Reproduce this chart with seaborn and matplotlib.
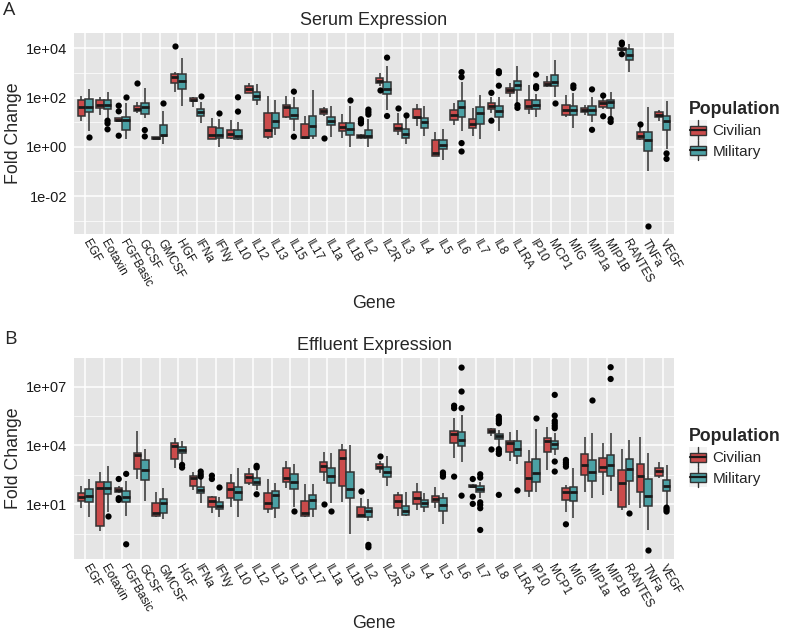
import matplotlib
matplotlib.use("Agg")
import matplotlib.pyplot as plt
import seaborn as sns
import numpy as np
import pandas as pd
from matplotlib.patches import Patch, Rectangle
from matplotlib.lines import Line2D
from matplotlib.legend_handler import HandlerBase
from matplotlib.ticker import FixedLocator, NullFormatter

genes = ["EGF", "Eotaxin", "FGFBasic", "GCSF", "GMCSF", "HGF", "IFNa", "IFNy",
         "IL10", "IL12", "IL13", "IL15", "IL17", "IL1a", "IL1B", "IL2", "IL2R",
         "IL3", "IL4", "IL5", "IL6", "IL7", "IL8", "IL1RA", "IP10", "MCP1", "MIG",
         "MIP1a", "MIP1B", "RANTES", "TNFa", "VEGF"]
populations = ["Civilian", "Military"]
colors = {"Civilian": "#CB4B4B", "Military": "#4BA1A5"}

# box summaries, as log10 exponents: (low whisker, q1, median, q3, high whisker)
serum_civilian = [
    (1.06, 1.24, 1.63, 1.92, 2.08), (1.31, 1.58, 1.71, 1.92, 2.04), (1.03, 1.03, 1.09, 1.17, 1.17),
    (1.36, 1.44, 1.54, 1.67, 1.81), (0.31, 0.31, 0.35, 0.39, 0.39), (2.22, 2.60, 2.83, 2.97, 3.03),
    (1.63, 1.84, 1.92, 1.99, 2.04), (0.31, 0.31, 0.48, 0.79, 1.17), (0.31, 0.34, 0.52, 0.68, 1.09),
    (2.18, 2.20, 2.33, 2.45, 2.59), (0.31, 0.38, 0.68, 1.36, 2.07), (1.17, 1.20, 1.61, 1.71, 2.07),
    (0.31, 0.34, 0.38, 0.93, 1.27), (1.27, 1.33, 1.47, 1.54, 1.61), (0.35, 0.65, 0.79, 0.95, 1.33),
    (0.30, 0.35, 0.42, 0.49, 0.52), (2.45, 2.59, 2.69, 2.79, 3.00), (0.49, 0.63, 0.76, 0.93, 1.37),
    (0.86, 1.17, 1.22, 1.54, 1.74), (-0.39, -0.37, -0.27, 0.27, 0.59), (0.88, 1.09, 1.31, 1.50, 1.77),
    (0.45, 0.75, 0.93, 1.13, 1.58), (1.36, 1.54, 1.67, 1.77, 2.01), (2.01, 2.18, 2.29, 2.38, 2.59),
    (1.33, 1.54, 1.66, 1.92, 2.49), (2.42, 2.45, 2.54, 2.63, 2.87), (1.20, 1.29, 1.51, 1.71, 2.12),
    (1.31, 1.40, 1.50, 1.58, 1.70), (1.54, 1.63, 1.76, 1.84, 1.97), (3.89, 3.92, 3.97, 4.03, 4.05),
    (0.29, 0.31, 0.44, 0.59, 0.79), (1.06, 1.22, 1.29, 1.40, 1.50),
]
serum_military = [
    (0.65, 1.43, 1.61, 1.95, 2.35), (1.17, 1.52, 1.71, 1.88, 2.22), (0.31, 0.69, 1.09, 1.22, 1.77),
    (1.17, 1.33, 1.63, 1.78, 2.38), (0.11, 0.42, 0.49, 0.88, 1.47), (1.66, 2.35, 2.67, 2.94, 3.61),
    (0.95, 1.27, 1.43, 1.54, 1.82), (0.01, 0.35, 0.49, 0.76, 1.13), (0.29, 0.31, 0.45, 0.68, 0.99),
    (1.71, 1.92, 2.07, 2.24, 2.56), (0.49, 0.76, 1.06, 1.36, 1.92), (0.65, 1.13, 1.31, 1.56, 2.01),
    (0.31, 0.42, 0.86, 1.27, 2.31), (0.38, 0.88, 1.06, 1.22, 1.67), (0.01, 0.48, 0.71, 0.95, 1.67),
    (0.01, 0.35, 0.45, 0.68, 1.13), (1.51, 2.15, 2.35, 2.63, 3.28), (0.11, 0.35, 0.52, 0.71, 1.17),
    (0.44, 0.76, 0.99, 1.16, 1.66), (-0.53, -0.10, 0.08, 0.27, 0.72), (0.65, 1.22, 1.61, 1.85, 2.63),
    (0.31, 0.93, 1.39, 1.61, 2.11), (0.65, 1.22, 1.44, 1.67, 2.01), (1.77, 2.29, 2.52, 2.69, 3.27),
    (1.20, 1.52, 1.71, 1.88, 2.15), (2.01, 2.45, 2.65, 2.93, 3.54), (0.75, 1.29, 1.51, 1.67, 2.18),
    (0.99, 1.31, 1.50, 1.67, 2.04), (1.22, 1.58, 1.80, 1.88, 2.24), (3.03, 3.54, 3.71, 3.99, 4.16),
    (-0.98, -0.16, 0.29, 0.59, 1.63), (-0.10, 0.69, 1.03, 1.27, 1.85),
]
serum_civilian_out = {
    "FGFBasic": [1.67, 1.44, 0.45], "GCSF": [2.59], "HGF": [4.10], "IL1a": [0.34],
    "IL2": [1.12, 1.03, 0.95], "IL2R": [2.29], "IL3": [1.58], "IL8": [2.19, 1.06],
    "MIP1B": [2.08, 1.24], "RANTES": [4.23, 4.16, 3.76], "TNFa": [0.94],
}
serum_military_out = {
    "EGF": [0.38], "Eotaxin": [1.06, 0.95, 0.71], "FGFBasic": [2.04], "GCSF": [0.68, 0.42],
    "GMCSF": [1.76], "IFNa": [2.07], "IFNy": [1.36], "IL10": [2.01, 1.43], "IL15": [2.24, 0.41],
    "IL1B": [1.92], "IL2": [1.51, 1.41, 1.31], "IL2R": [3.62, 1.25], "IL3": [1.29],
    "IL6": [3.03, 2.83, 0.15, -0.19], "IL8": [3.07, 2.99, 2.48], "IL1RA": [1.69, 1.58],
    "IP10": [2.93, 2.46, 2.38], "MCP1": [1.77], "MIG": [2.49, 2.39], "MIP1a": [2.33, 0.69],
    "MIP1B": [1.13, 1.01], "TNFa": [-3.22], "VEGF": [-0.27, -0.49],
}

effluent_civilian = [
    (0.80, 1.19, 1.36, 1.56, 1.95), (-0.36, -0.09, 1.85, 2.12, 2.67), (1.56, 1.65, 1.73, 1.85, 1.94),
    (2.28, 2.79, 3.52, 3.60, 4.74), (0.37, 0.40, 0.54, 1.05, 1.61), (2.84, 3.30, 3.99, 4.11, 4.37),
    (1.73, 1.94, 2.36, 2.45, 2.63), (0.54, 0.88, 1.17, 1.39, 1.44), (0.88, 1.31, 1.77, 2.11, 2.55),
    (1.99, 2.07, 2.38, 2.55, 2.84), (0.54, 0.76, 1.05, 1.56, 2.28), (1.82, 2.12, 2.33, 2.84, 3.21),
    (0.37, 0.42, 0.54, 1.17, 2.04), (2.21, 2.63, 2.96, 3.18, 3.65), (1.14, 1.95, 3.38, 3.77, 4.06),
    (0.34, 0.37, 0.46, 0.85, 1.31), (2.58, 2.79, 2.92, 3.04, 3.21), (0.40, 0.80, 1.17, 1.48, 1.65),
    (0.71, 1.00, 1.34, 1.65, 2.07), (0.83, 1.14, 1.29, 1.44, 1.87), (3.38, 4.11, 4.57, 4.74, 5.39),
    (1.85, 1.88, 1.94, 1.99, 2.02), (4.50, 4.62, 4.74, 4.84, 4.88), (3.21, 3.65, 4.11, 4.23, 4.71),
    (1.39, 1.70, 2.36, 3.18, 3.77), (2.75, 3.69, 4.23, 4.40, 4.96), (0.63, 1.22, 1.65, 1.85, 1.99),
    (1.65, 2.50, 3.01, 3.57, 4.45), (1.48, 2.63, 2.89, 3.38, 4.11), (0.71, 0.88, 2.07, 2.75, 3.81),
    (0.83, 1.65, 2.46, 3.06, 4.42), (2.33, 2.46, 2.70, 2.87, 3.18),
]
effluent_military = [
    (0.34, 1.14, 1.44, 1.78, 2.28), (0.63, 1.51, 1.82, 2.16, 2.97), (0.42, 1.14, 1.39, 1.68, 2.21),
    (1.19, 2.26, 2.75, 3.24, 3.81), (0.23, 0.57, 1.05, 1.26, 1.82), (3.14, 3.59, 3.77, 3.91, 4.23),
    (1.05, 1.56, 1.73, 1.90, 2.29), (0.37, 0.74, 0.93, 1.14, 1.39), (0.34, 1.22, 1.65, 1.90, 2.84),
    (1.73, 1.99, 2.16, 2.33, 2.72), (0.32, 0.83, 1.48, 1.68, 2.07), (0.88, 1.78, 2.16, 2.55, 3.04),
    (0.37, 0.76, 1.22, 1.48, 2.04), (1.05, 2.07, 2.46, 2.84, 3.64), (-0.53, 1.34, 1.77, 2.67, 4.03),
    (0.17, 0.37, 0.66, 0.80, 1.27), (1.95, 2.41, 2.63, 2.89, 3.47), (0.40, 0.46, 0.68, 0.93, 1.61),
    (0.63, 0.88, 1.05, 1.22, 1.60), (-0.02, 0.68, 0.97, 1.31, 1.56), (3.14, 3.99, 4.28, 4.71, 5.56),
    (1.31, 1.61, 1.78, 1.94, 2.16), (3.89, 4.32, 4.49, 4.59, 4.79), (3.04, 3.48, 3.81, 4.23, 4.79),
    (1.61, 2.12, 2.58, 3.30, 4.84), (3.52, 3.81, 4.06, 4.23, 4.62), (0.32, 1.19, 1.61, 1.90, 2.84),
    (1.31, 2.19, 2.63, 3.26, 4.66), (1.68, 2.46, 3.01, 3.52, 4.62), (0.97, 2.19, 2.79, 3.30, 4.28),
    (-0.31, 0.93, 1.43, 2.28, 3.60), (0.88, 1.68, 1.95, 2.24, 3.01),
]
effluent_civilian_out = {
    "FGFBasic": [2.29, 1.31, 1.22], "IFNy": [2.46, 2.29], "IL1a": [1.00], "IL2": [1.68],
    "IL2R": [3.48], "IL6": [6.03, 5.90, 2.41], "IL7": [2.29, 1.39, 1.02], "IL8": [3.81],
    "MIG": [3.26, 3.14, 3.04, 2.92, -0.02],
}
effluent_military_out = {
    "Eotaxin": [0.39], "FGFBasic": [2.55, -1.04], "HGF": [3.01, 2.87], "IFNa": [2.67, 2.53, 2.41],
    "IFNy": [1.90], "IL12": [2.96, 2.87, 1.51], "IL15": [0.66], "IL1a": [0.68], "IL2": [-1.07, -1.19],
    "IL5": [2.62, 2.53, 2.41], "IL6": [7.97, 6.75, 5.90, 1.44],
    "IL7": [2.53, 2.36, 1.10, 0.97, 0.80, -0.31], "IL8": [5.47, 5.35, 5.25, 5.13, 3.81, 3.69, 3.57, 1.48],
    "IL1RA": [1.73], "IP10": [5.39], "MCP1": [6.58, 5.52, 5.25, 5.13, 5.00, 4.88, 3.18, 2.67],
    "MIP1a": [6.32], "MIP1B": [7.99, 7.39], "RANTES": [0.57], "TNFa": [-1.33], "VEGF": [0.83, 0.73, 0.63],
}


def box_frame(civ, mil):
    # five values per box give exactly those quartiles; whiskers run to min/max
    rows = []
    for pop, stats in zip(populations, [civ, mil]):
        for gene, five in zip(genes, stats):
            for e in five:
                rows.append((gene, pop, 10.0 ** e))
    return pd.DataFrame(rows, columns=["Gene", "Population", "Fold Change"])


def outlier_frame(civ, mil):
    rows = []
    for pop, outs in zip(populations, [civ, mil]):
        for gene, vals in outs.items():
            for e in vals:
                rows.append((gene, pop, 10.0 ** e))
    return pd.DataFrame(rows, columns=["Gene", "Population", "Fold Change"])


class BoxKey(HandlerBase):
    # legend key that looks like a little boxplot
    def create_artists(self, legend, orig_handle, xdescent, ydescent, width, height, fontsize, trans):
        x0, y0 = -xdescent, -ydescent
        bg = Rectangle((x0, y0 - 2), width, height + 4, facecolor="#F2F2F2", edgecolor="none", transform=trans)
        cx = x0 + width / 2
        whisker = Line2D([cx, cx], [y0 - 2, y0 + height + 2], color="#333333", lw=1, transform=trans)
        box = Rectangle((x0 + 1, y0 + height * 0.18), width - 2, height * 0.64,
                        facecolor=orig_handle.get_facecolor(), edgecolor="#333333", lw=1, transform=trans)
        med = Line2D([x0 + 1, x0 + width - 1], [y0 + height / 2] * 2, color="#1a1a1a", lw=1.6, transform=trans)
        return [bg, whisker, box, med]


sns.set_theme(style="darkgrid", rc={"axes.facecolor": "#E5E5E5", "grid.color": "white"})
plt.rcParams["font.family"] = ["Liberation Sans", "DejaVu Sans"]

fig = plt.figure(figsize=(7.86, 6.35), dpi=100)
ax_a = fig.add_axes([74 / 786, 1 - 234 / 635, 600 / 786, 201 / 635])
ax_b = fig.add_axes([74 / 786, 1 - 559 / 635, 600 / 786, 201 / 635])


def draw_panel(ax, boxes, outs, title, yticks, ylabels, minors, ylim, legend_y, xpad):
    ax.set_yscale("log")
    sns.boxplot(data=boxes, x="Gene", y="Fold Change", hue="Population", order=genes,
                hue_order=populations, palette=colors, saturation=1, width=0.8, whis=(0, 100),
                linecolor="#333333", linewidth=1.1, showcaps=False, legend=False, ax=ax,
                medianprops={"color": "#1a1a1a", "linewidth": 2})
    sns.stripplot(data=outs, x="Gene", y="Fold Change", hue="Population", order=genes,
                  hue_order=populations, palette={p: "black" for p in populations},
                  dodge=True, jitter=False, size=4.5, linewidth=0, legend=False, ax=ax, zorder=4)
    ax.set_xlim(-0.6, len(genes) - 0.4)
    ax.set_ylim(*ylim)
    ax.set_yticks(yticks)
    ax.set_yticklabels(ylabels)
    ax.yaxis.set_minor_locator(FixedLocator(minors))
    ax.yaxis.set_minor_formatter(NullFormatter())
    ax.set_xticks(range(len(genes)))
    ax.set_xticklabels(genes, rotation=-60, ha="left", va="center", rotation_mode="anchor", fontsize=8.6)
    ax.grid(True, which="major", axis="both", color="white", linewidth=1.1)
    ax.grid(True, which="minor", axis="y", color="white", linewidth=0.5)
    ax.set_axisbelow(True)
    for s in ax.spines.values():
        s.set_visible(False)
    ax.tick_params(axis="both", which="major", length=3, width=0.8, color="#333333", pad=2)
    ax.tick_params(axis="y", which="major", labelsize=10.5, labelcolor="#1a1a1a")
    ax.tick_params(axis="x", which="major", labelcolor="#1a1a1a")
    ax.tick_params(which="minor", length=0)
    ax.set_title(title, fontsize=13, pad=6)
    ax.set_xlabel("Gene", fontsize=12.8, labelpad=xpad)
    ax.set_ylabel("Fold Change", fontsize=12.8, labelpad=3)
    handles = [Patch(facecolor=colors[p], label=p) for p in populations]
    leg = ax.legend(handles=handles, title="Population", loc="upper left", bbox_to_anchor=(1.025, legend_y),
                    frameon=False, handler_map={Patch: BoxKey()}, fontsize=11, title_fontsize=12.8,
                    handlelength=1.2, handleheight=1.1, handletextpad=0.35, labelspacing=0.3,
                    borderaxespad=0, borderpad=0, alignment="left")
    leg.get_title().set_fontweight("bold")


draw_panel(ax_a, box_frame(serum_civilian, serum_military),
           outlier_frame(serum_civilian_out, serum_military_out), "Serum Expression",
           [1e-2, 1e0, 1e2, 1e4], ["1e-02", "1e+00", "1e+02", "1e+04"],
           [1e-3, 1e-1, 1e1, 1e3], (10 ** -3.54, 10 ** 4.62), 0.66, 4)
draw_panel(ax_b, box_frame(effluent_civilian, effluent_military),
           outlier_frame(effluent_civilian_out, effluent_military_out), "Effluent Expression",
           [1e1, 1e4, 1e7], ["1e+01", "1e+04", "1e+07"],
           [10 ** -0.5, 10 ** 2.5, 10 ** 5.5], (10 ** -1.79, 10 ** 8.46), 0.65, 0)

fig.text(9 / 786, 1 - 10 / 635, "A", fontsize=14, family="Open Sans", ha="center", va="center")
fig.text(10 / 786, 1 - 339 / 635, "B", fontsize=14, family="Open Sans", ha="center", va="center")

fig.savefig("out.png", dpi=100)
